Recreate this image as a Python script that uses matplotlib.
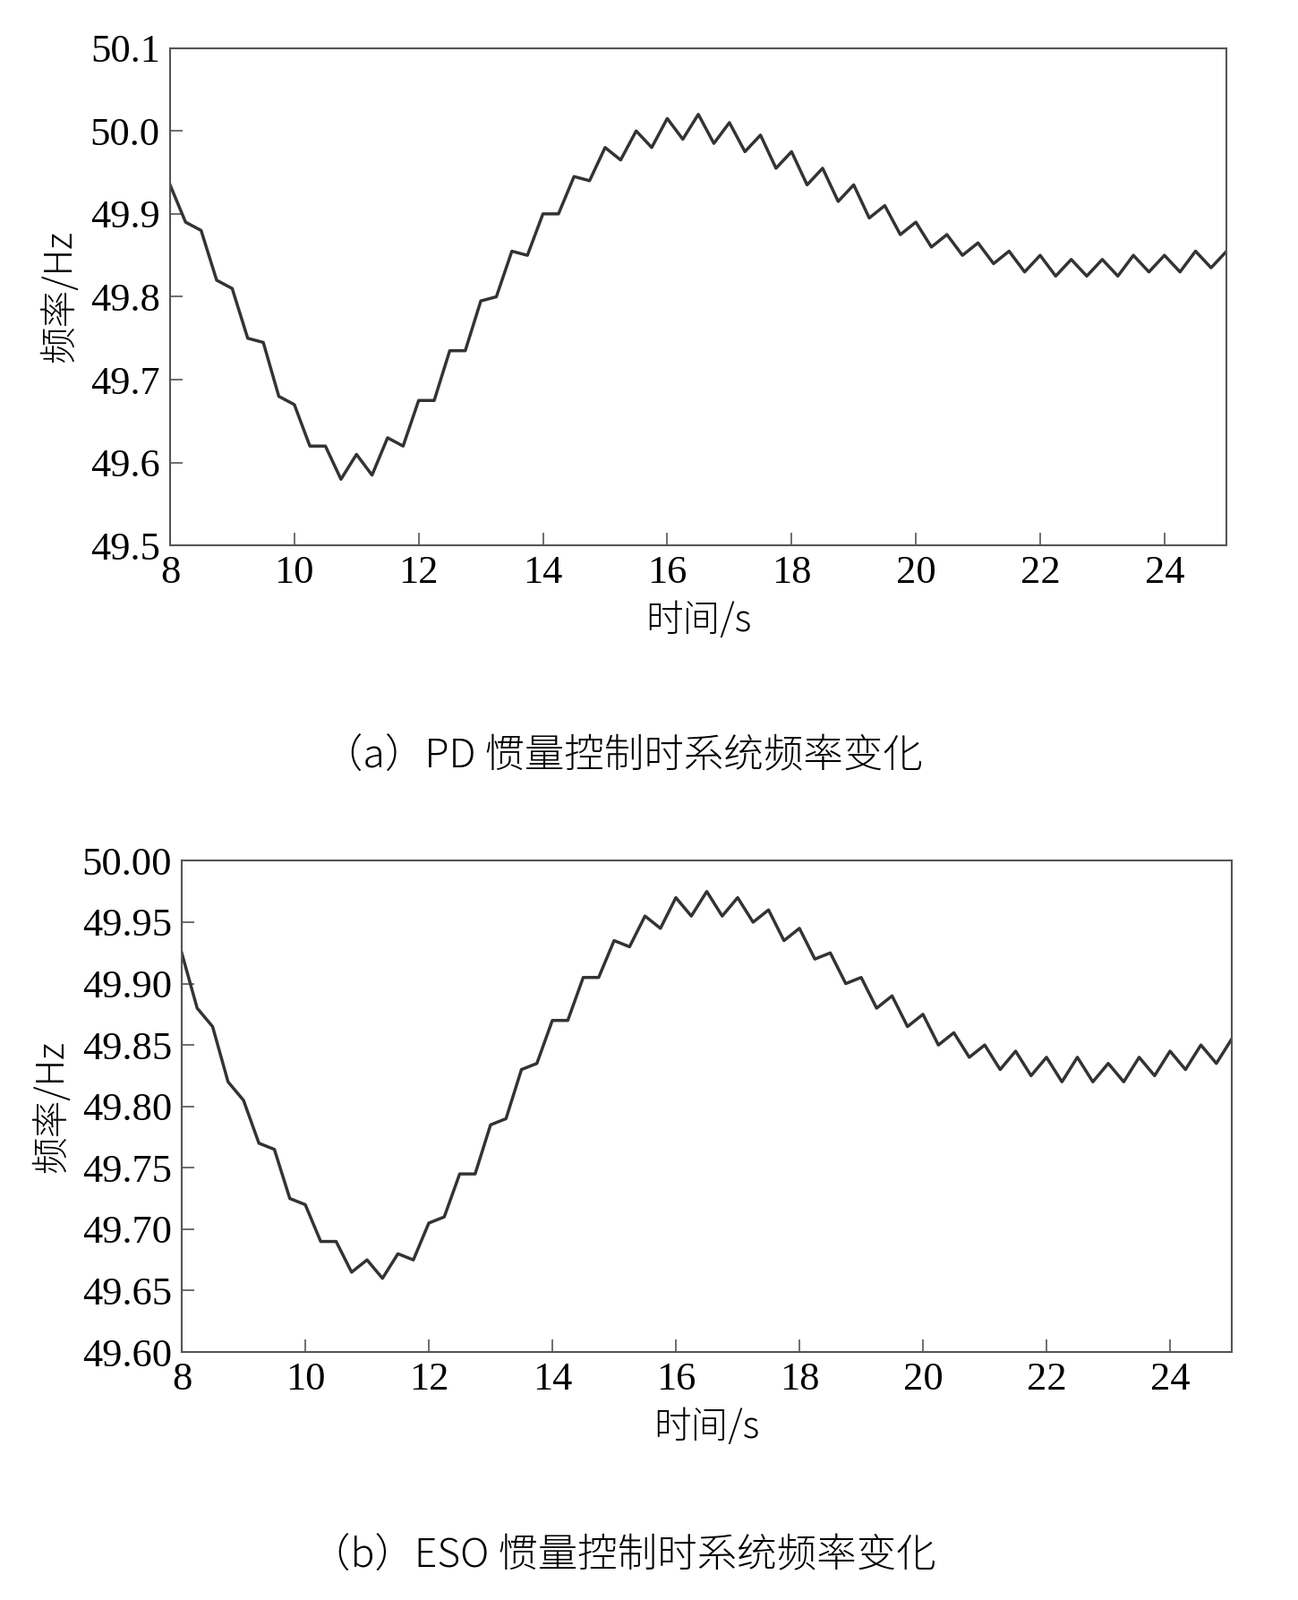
import matplotlib
matplotlib.use('Agg')
import matplotlib.pyplot as plt
from matplotlib import font_manager
import numpy as np

# time axis, 0.25 s steps from 8 s to 25 s
t = np.arange(8.0, 25.01, 0.25)

freq_pd = [49.935, 49.89, 49.88, 49.82, 49.81, 49.75, 49.745, 49.68, 49.67, 49.62,
           49.62, 49.58, 49.61, 49.585, 49.63, 49.62, 49.675, 49.675, 49.735, 49.735,
           49.795, 49.80, 49.855, 49.85, 49.90, 49.90, 49.945, 49.94, 49.98, 49.965,
           50.0, 49.98, 50.015, 49.99, 50.02, 49.985, 50.01, 49.975, 49.995, 49.955,
           49.975, 49.935, 49.955, 49.915, 49.935, 49.895, 49.91, 49.875, 49.89, 49.86,
           49.875, 49.85, 49.865, 49.84, 49.855, 49.83, 49.85, 49.825, 49.845, 49.825,
           49.845, 49.825, 49.85, 49.83, 49.85, 49.83, 49.855, 49.835, 49.855]

freq_eso = [49.925, 49.88, 49.865, 49.82, 49.805, 49.77, 49.765, 49.725, 49.72, 49.69,
            49.69, 49.665, 49.675, 49.66, 49.68, 49.675, 49.705, 49.71, 49.745, 49.745,
            49.785, 49.79, 49.83, 49.835, 49.87, 49.87, 49.905, 49.905, 49.935, 49.93,
            49.955, 49.945, 49.97, 49.955, 49.975, 49.955, 49.97, 49.95, 49.96, 49.935,
            49.945, 49.92, 49.925, 49.90, 49.905, 49.88, 49.89, 49.865, 49.875, 49.85,
            49.86, 49.84, 49.85, 49.83, 49.845, 49.825, 49.84, 49.82, 49.84, 49.82,
            49.835, 49.82, 49.84, 49.825, 49.845, 49.83, 49.85, 49.835, 49.855]

xticks = [8, 10, 12, 14, 16, 18, 20, 22, 24]
yticks_pd = [49.5, 49.6, 49.7, 49.8, 49.9, 50.0, 50.1]
yticks_eso = [49.60, 49.65, 49.70, 49.75, 49.80, 49.85, 49.90, 49.95, 50.00]

num_font = 'Liberation Serif'
cjk_files = [f for f in font_manager.findSystemFonts() if 'CJK' in f]
cjk_files.sort(key=lambda f: ('Bold' in f, 'SC' not in f and 'sc' not in f.lower()))
if cjk_files:
    cjk = lambda size, bold=False: font_manager.FontProperties(
        fname=cjk_files[0], size=size, weight='bold' if bold else 'normal')
else:
    cjk = lambda size, bold=False: font_manager.FontProperties(
        family='Noto Sans CJK SC', size=size, weight='bold' if bold else 'normal')

fig = plt.figure(figsize=(14.5, 17.87), dpi=100)
ax1 = fig.add_axes([0.131, 0.659, 0.814, 0.311])
ax2 = fig.add_axes([0.140, 0.155, 0.809, 0.307])


def style(ax, yticks, fmt):
    ax.set_xlim(8, 25)
    ax.set_xticks(xticks)
    ax.set_yticks(yticks)
    ax.set_ylim(yticks[0], yticks[-1])
    ax.set_xticklabels([str(v) for v in xticks], fontfamily=num_font, fontsize=32)
    ax.set_yticklabels([fmt.format(v) for v in yticks], fontfamily=num_font, fontsize=32)
    ax.tick_params(direction='in', length=10, width=1.2, color='#555555', pad=8)
    for s in ax.spines.values():
        s.set_color('#555555')
        s.set_linewidth(1.5)
    ax.set_xlabel('时间/s', fontproperties=cjk(30, True), labelpad=8)
    ax.set_ylabel('频率/Hz', fontproperties=cjk(30, True), labelpad=8)


ax1.plot(t, freq_pd, color='#333333', lw=2.5)
style(ax1, yticks_pd, '{:.1f}')
ax2.plot(t, freq_eso, color='#333333', lw=2.5)
style(ax2, yticks_eso, '{:.2f}')

fig.text(0.48, 0.527, '（a）PD 惯量控制时系统频率变化', ha='center', va='center',
         fontproperties=cjk(32))
fig.text(0.48, 0.027, '（b）ESO 惯量控制时系统频率变化', ha='center', va='center',
         fontproperties=cjk(32))

fig.savefig('out.png', dpi=100, facecolor='white')
